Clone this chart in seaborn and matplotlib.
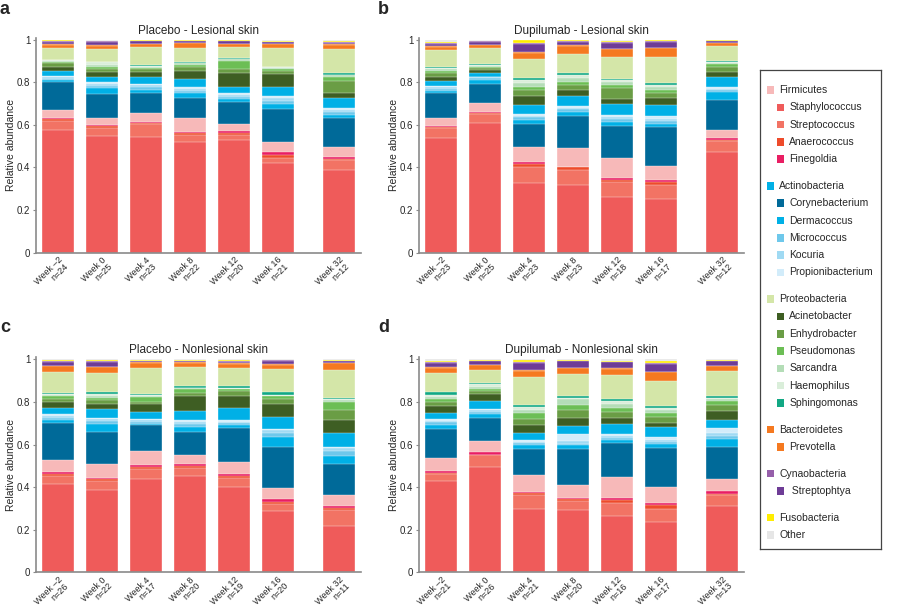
import pandas as pd
import seaborn as sns
import matplotlib.pyplot as plt
from matplotlib.patches import Rectangle

sns.set_style("ticks")
plt.rcParams["font.family"] = ["Liberation Sans", "DejaVu Sans"]

# x categories
weeks = ["Week \u20132", "Week 0", "Week 4", "Week 8", "Week 12", "Week 16", "Week 32"]
week_pos = [0, 1, 2, 3, 4, 5, 6.4]   # week 32 sits after a gap

# stacking order, bottom -> top
taxa = ["Staphylococcus", "Streptococcus", "Anaerococcus", "Finegoldia", "Firmicutes",
        "Corynebacterium", "Dermacoccus", "Micrococcus", "Kocuria", "Propionibacterium",
        "Actinobacteria", "Acinetobacter", "Enhydrobacter", "Pseudomonas", "Sarcandra",
        "Haemophilus", "Sphingomonas", "Proteobacteria", "Prevotella", "Bacteroidetes",
        "Streptophtya", "Cynaobacteria", "Fusobacteria", "Other"]
colors = ["#EF5B5A", "#F27364", "#EE4B2B", "#E91E63", "#F7B9B9",
          "#006A99", "#00B0E6", "#6EC8EB", "#A0DAF3", "#D2ECFA",
          "#00B0E6", "#3E5E23", "#6A9D45", "#6CBE55", "#B4DDB7",
          "#DAEEDA", "#12A884", "#D4E6A8", "#F57920", "#F57920",
          "#6E3C96", "#965FAA", "#FFED00", "#E6E6E6"]

# sample sizes
n_placebo_les = [24, 25, 23, 22, 20, 21, 12]
n_dupi_les = [23, 25, 23, 23, 18, 17, 12]
n_placebo_non = [26, 22, 17, 20, 19, 20, 11]
n_dupi_non = [21, 26, 21, 20, 16, 17, 13]

# cumulative relative abundance at the top of each taxon band (one row per week)
placebo_les = [
    [.577, .621, .627, .633, .671, .804, .810, .818, .824, .830, .856, .871, .890, .898, .901, .904, .908, .964, .976, .979, .991, .995, 1.0, 1.0],
    [.549, .588, .594, .600, .635, .746, .773, .783, .791, .800, .828, .847, .862, .871, .884, .895, .898, .958, .973, .976, .992, .995, .997, 1.0],
    [.545, .605, .608, .616, .655, .752, .765, .777, .786, .793, .824, .848, .862, .870, .875, .878, .880, .969, .981, .983, .993, .995, .998, 1.0],
    [.522, .552, .564, .569, .632, .726, .749, .761, .771, .780, .815, .856, .875, .882, .890, .893, .895, .961, .984, .986, .994, .996, .998, 1.0],
    [.527, .553, .564, .572, .605, .710, .721, .733, .742, .750, .781, .846, .862, .903, .909, .911, .913, .966, .981, .983, .993, .995, .998, 1.0],
    [.420, .447, .458, .472, .522, .676, .699, .714, .726, .737, .777, .840, .856, .862, .870, .873, .875, .961, .981, .983, .988, .990, .996, 1.0],
    [.386, .433, .442, .450, .495, .632, .647, .659, .669, .679, .726, .749, .807, .828, .835, .837, .843, .956, .976, .979, .987, .990, .993, 1.0],
]
dupi_les = [
    [.540, .585, .590, .595, .635, .750, .760, .770, .778, .785, .805, .825, .845, .855, .863, .868, .873, .953, .968, .971, .983, .986, .990, 1.0],
    [.610, .650, .655, .660, .705, .795, .813, .819, .824, .828, .844, .858, .868, .874, .878, .881, .887, .962, .974, .976, .992, .995, .997, 1.0],
    [.326, .404, .415, .425, .495, .605, .624, .636, .644, .652, .693, .738, .765, .781, .796, .812, .820, .909, .940, .942, .983, .987, .999, 1.0],
    [.318, .389, .400, .404, .491, .643, .663, .673, .681, .687, .737, .765, .788, .804, .820, .835, .846, .933, .972, .974, .990, .994, .999, 1.0],
    [.263, .331, .342, .350, .444, .596, .616, .628, .638, .648, .700, .723, .773, .789, .800, .810, .817, .922, .956, .958, .986, .990, .995, 1.0],
    [.252, .317, .334, .342, .408, .592, .605, .618, .630, .643, .694, .725, .749, .765, .781, .790, .799, .922, .961, .963, .990, .993, .999, 1.0],
    [.475, .525, .530, .538, .577, .718, .757, .765, .771, .777, .824, .851, .875, .887, .893, .896, .902, .973, .984, .986, .994, .996, .998, 1.0],
]
placebo_non = [
    [.416, .452, .463, .473, .529, .701, .714, .726, .734, .742, .773, .798, .812, .826, .833, .836, .842, .942, .969, .971, .990, .993, .997, 1.0],
    [.388, .429, .437, .443, .507, .659, .698, .710, .719, .726, .768, .792, .808, .818, .829, .837, .847, .936, .964, .966, .987, .991, .996, 1.0],
    [.437, .487, .495, .502, .570, .690, .695, .707, .715, .721, .753, .789, .800, .823, .828, .831, .839, .961, .984, .986, .992, .994, .998, 1.0],
    [.452, .491, .499, .507, .549, .659, .682, .695, .705, .717, .760, .826, .842, .859, .864, .867, .873, .964, .984, .986, .992, .994, .996, 1.0],
    [.401, .443, .452, .463, .518, .679, .690, .700, .707, .714, .772, .828, .851, .859, .862, .865, .873, .961, .980, .982, .990, .992, .999, 1.0],
    [.286, .319, .330, .344, .396, .588, .635, .655, .667, .674, .729, .789, .812, .826, .829, .832, .847, .953, .975, .977, .993, .996, .998, 1.0],
    [.216, .291, .302, .311, .365, .510, .546, .571, .584, .591, .654, .714, .761, .800, .808, .812, .820, .951, .983, .985, .991, .993, .999, 1.0],
]
dupi_non = [
    [.430, .460, .467, .477, .537, .672, .692, .704, .712, .720, .750, .780, .800, .815, .825, .833, .845, .935, .960, .963, .983, .988, .992, 1.0],
    [.495, .549, .553, .565, .617, .726, .745, .755, .762, .768, .804, .836, .850, .861, .870, .883, .891, .952, .972, .974, .991, .994, .997, 1.0],
    [.299, .362, .372, .377, .455, .581, .596, .606, .614, .620, .654, .690, .721, .748, .764, .776, .786, .917, .948, .950, .984, .988, .996, 1.0],
    [.291, .335, .346, .349, .408, .577, .596, .604, .616, .648, .687, .725, .761, .784, .815, .819, .826, .933, .959, .961, .992, .995, .997, 1.0],
    [.264, .327, .341, .349, .448, .607, .623, .633, .641, .648, .698, .725, .753, .773, .789, .803, .814, .925, .956, .958, .986, .990, .995, 1.0],
    [.236, .296, .315, .326, .401, .585, .601, .613, .623, .635, .682, .700, .729, .748, .764, .773, .782, .898, .940, .942, .978, .982, .995, 1.0],
    [.311, .362, .369, .380, .437, .588, .628, .640, .653, .680, .714, .757, .784, .804, .815, .818, .828, .945, .967, .969, .992, .995, .997, 1.0],
]

panels = [
    ("a", "Placebo - Lesional skin", placebo_les, n_placebo_les, [0.040, 0.5867, 0.3611, 0.3514], (0.0, 0.977)),
    ("b", "Dupilumab - Lesional skin", dupi_les, n_dupi_les, [0.4656, 0.5867, 0.3611, 0.3514], (0.42, 0.977)),
    ("c", "Placebo - Nonlesional skin", placebo_non, n_placebo_non, [0.040, 0.0633, 0.3611, 0.3519], (0.0, 0.4566)),
    ("d", "Dupilumab - Nonlesional skin", dupi_non, n_dupi_non, [0.4656, 0.0633, 0.3611, 0.3519], (0.42, 0.4566)),
]

fig = plt.figure(figsize=(9, 6.11), dpi=100)
axis_grey = "#8a8a8a"

for letter, title, tops, ns, rect, lpos in panels:
    ax = fig.add_axes(rect)
    df = pd.DataFrame(tops, columns=taxa)
    df["pos"] = week_pos
    long = df.melt(id_vars="pos", var_name="taxon", value_name="top")
    # draw from the tallest cumulative band down so each band shows its own slice
    for taxon, col in reversed(list(zip(taxa, colors))):
        sns.barplot(data=long[long["taxon"] == taxon], x="pos", y="top", native_scale=True,
                    width=0.73, color=col, saturation=1, errorbar=None,
                    edgecolor="white", linewidth=0.25, ax=ax)
    ax.set_xlim(-0.5, 6.9)
    ax.set_ylim(0, 1.01)
    ax.set_xticks(week_pos)
    ax.set_xticklabels([f"{w}\nn={n}" for w, n in zip(weeks, ns)], rotation=45,
                       ha="right", rotation_mode="anchor", fontsize=6.5, linespacing=0.95)
    ax.set_yticks([0, 0.2, 0.4, 0.6, 0.8, 1.0])
    ax.set_yticklabels(["0", "0.2", "0.4", "0.6", "0.8", "1"], fontsize=7)
    ax.tick_params(axis="x", length=0, pad=2)
    ax.tick_params(axis="y", length=2, width=0.8, color=axis_grey, pad=2)
    ax.set_xlabel("")
    ax.set_ylabel("Relative abundance", fontsize=7.5, labelpad=1)
    ax.set_title(title, fontsize=8.5, pad=3)
    for side in ["top", "right"]:
        ax.spines[side].set_visible(False)
    for side in ["left", "bottom"]:
        ax.spines[side].set_color(axis_grey)
        ax.spines[side].set_linewidth(1.2)
    fig.text(lpos[0], lpos[1], letter, fontsize=13, fontweight="bold", va="baseline")

# legend panel, laid out in pixel-like units
leg = fig.add_axes([760 / 900, 62 / 611, 120.7 / 900, 479 / 611])
leg.set_xlim(0, 120.7)
leg.set_ylim(479, 0)
leg.set_xticks([])
leg.set_yticks([])
for s in leg.spines.values():
    s.set_color("#444444")
    s.set_linewidth(0.9)

legend_groups = [
    [("Firmicutes", "#F7B9B9", 0), ("Staphylococcus", "#EF5B5A", 1), ("Streptococcus", "#F27364", 1),
     ("Anaerococcus", "#EE4B2B", 1), ("Finegoldia", "#E91E63", 1)],
    [("Actinobacteria", "#00B0E6", 0), ("Corynebacterium", "#006A99", 1), ("Dermacoccus", "#00B0E6", 1),
     ("Micrococcus", "#6EC8EB", 1), ("Kocuria", "#A0DAF3", 1), ("Propionibacterium", "#D2ECFA", 1)],
    [("Proteobacteria", "#D4E6A8", 0), ("Acinetobacter", "#3E5E23", 1), ("Enhydrobacter", "#6A9D45", 1),
     ("Pseudomonas", "#6CBE55", 1), ("Sarcandra", "#B4DDB7", 1), ("Haemophilus", "#DAEEDA", 1),
     ("Sphingomonas", "#12A884", 1)],
    [("Bacteroidetes", "#F57920", 0), ("Prevotella", "#F57920", 1)],
    [("Cynaobacteria", "#965FAA", 0), (" Streptophtya", "#6E3C96", 1)],
    [("Fusobacteria", "#FFED00", 0), ("Other", "#E6E6E6", 0)],
]
y = 20
for group in legend_groups:
    for label, col, indent in group:
        x0 = 6.7 + 10 * indent
        leg.add_patch(Rectangle((x0, y - 3.8), 7.6, 7.6, facecolor=col, edgecolor="none"))
        leg.text(x0 + 12.6, y, label, fontsize=7.5, va="center", ha="left")
        y += 17.3
    y += 9.4

fig.savefig("out.png", dpi=100)
